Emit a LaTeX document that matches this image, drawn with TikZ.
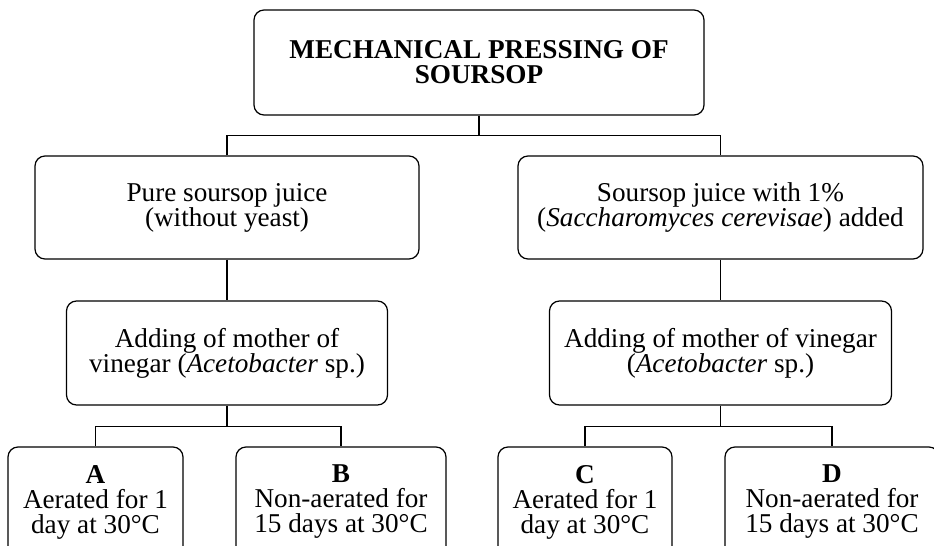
\documentclass[tikz,border=0pt]{standalone}
\usepackage{fontspec}
\setmainfont{Liberation Serif}
\newcommand{\stagefont}{\fontsize{13.6}{12.5}\selectfont\setlength{\lineskiplimit}{-20pt}}
\tikzset{
  stage/.style={draw, rounded corners=5pt, line width=0.6pt, align=center, inner sep=0pt,
    font=\stagefont},
  leaf/.style={stage, minimum height=55pt},
}
\begin{document}
\begin{tikzpicture}[x=0.5pt,y=-0.5pt]
    \useasboundingbox (0,0) rectangle (934,546);
    \clip (0,0) rectangle (934,546);

    % Caja principal
    \node[stage, minimum width=225pt, minimum height=52.5pt] (press) at (479,62.5)
        {\textbf{MECHANICAL PRESSING OF}\\\textbf{SOURSOP}};

    % Jugos
    \node[stage, minimum width=192pt, minimum height=51.5pt] (pure) at (227,207.5)
        {Pure soursop juice\\(without yeast)};
    \node[stage, minimum width=202.5pt, minimum height=51.5pt] (yeast) at (720.5,207.5)
        {Soursop juice with 1\%\\(\textit{Saccharomyces cerevisae}) added};

    % Madre del vinagre
    \node[stage, minimum width=160.5pt, minimum height=52pt] (mvl) at (227,353)
        {Adding of mother of\\vinegar (\textit{Acetobacter} sp.)};
    \node[stage, minimum width=171pt, minimum height=52pt] (mvr) at (720.5,353)
        {Adding of mother of vinegar\\(\textit{Acetobacter} sp.)};

    % Tratamientos
    \node[leaf, minimum width=87.5pt] (a) at (95.5,502)
        {\textbf{A}\\Aerated for 1\\day at 30°C};
    \node[leaf, minimum width=105pt] (b) at (341,502)
        {\textbf{B}\\Non-aerated for\\15 days at 30°C};
    \node[leaf, minimum width=87pt] (c) at (585,502)
        {\textbf{C}\\Aerated for 1\\day at 30°C};
    \node[leaf, minimum width=107pt] (d) at (832,502)
        {\textbf{D}\\Non-aerated for\\15 days at 30°C};

    % Conectores
    \draw[line width=0.6pt] (press.south) -- ++(0,20) coordinate (jp);
    \draw[line width=0.6pt] (pure.north) |- (jp) -| (yeast.north);
    \draw[line width=0.6pt] (pure.south) -- (mvl.north);
    \draw[line width=0.6pt] (yeast.south) -- (mvr.north);
    \draw[line width=0.6pt] (mvl.south) -- ++(0,21) coordinate (jl);
    \draw[line width=0.6pt] (a.north) |- (jl) -| (b.north);
    \draw[line width=0.6pt] (mvr.south) -- ++(0,21) coordinate (jr);
    \draw[line width=0.6pt] (c.north) |- (jr) -| (d.north);
\end{tikzpicture}
\end{document}
